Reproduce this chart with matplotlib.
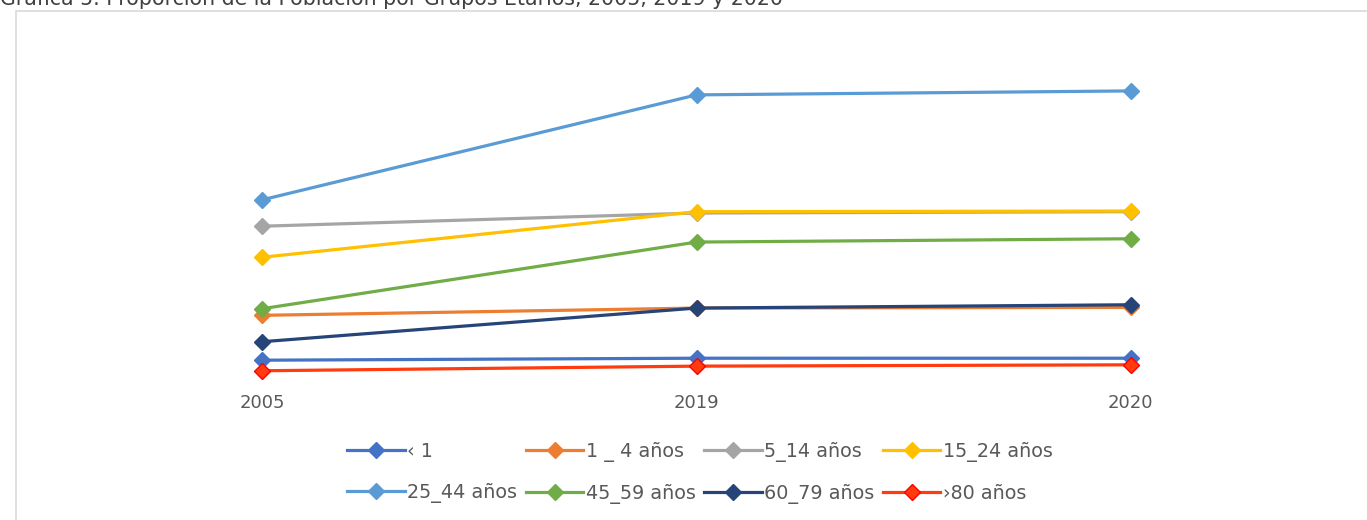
import matplotlib
matplotlib.use("Agg")
import matplotlib.pyplot as plt
from matplotlib.patches import Rectangle

# datos (escala aproximada, sin eje visible)
years = ["2005", "2019", "2020"]
labels = ["\u2039 1", "1 _ 4 años", "5_14 años", "15_24 años",
          "25_44 años", "45_59 años", "60_79 años", "\u203a80 años"]
menor_1 = [3.0, 3.3, 3.3]
de_1_4 = [9.8, 10.9, 11.0]
de_5_14 = [23.3, 25.3, 25.5]
de_15_24 = [18.6, 25.5, 25.6]
de_25_44 = [27.3, 43.2, 43.8]
de_45_59 = [10.8, 20.9, 21.4]
de_60_79 = [5.8, 10.9, 11.4]
mayor_80 = [1.4, 2.1, 2.3]

series = [menor_1, de_1_4, de_5_14, de_15_24, de_25_44, de_45_59, de_60_79, mayor_80]
colors = ["#4472C4", "#ED7D31", "#A5A5A5", "#FFC000",
          "#5B9BD5", "#70AD47", "#264478", "#FF3B0F"]

W, H = 1367, 520
fig = plt.figure(figsize=(W / 100, H / 100), dpi=100)

# marco del gráfico (solo se ven los bordes superior e izquierdo)
fig.patches.append(Rectangle((16 / W, -0.1), 1.2, 1 - 10.5 / H + 0.1,
                             transform=fig.transFigure, fill=False,
                             edgecolor="#D9D9D9", linewidth=1.2))

# el título queda cortado por arriba, igual que en el original
fig.text(0.0, 1 - 5 / H, "Gráfica 5. Proporción de la Población por Grupos Etarios, 2005, 2019 y 2020",
         fontsize=14.8, color="#404040", va="baseline", ha="left")

ax = fig.add_axes([45 / W, (H - 380) / H, 1303 / W, 330 / H])
x = list(range(len(years)))
handles = []
for vals, lab, c in zip(series, labels, colors):
    edge = "#FF0000" if c == "#FF3B0F" else c
    h, = ax.plot(x, vals, color=c, lw=2.3, marker="D", ms=8,
                 markerfacecolor=c, markeredgecolor=edge, markeredgewidth=1, label=lab)
    handles.append(h)

ax.set_xlim(-0.5, 2.5)
ax.set_ylim(0, 50)
ax.set_xticks(x)
ax.set_xticklabels(years, fontsize=13, color="#595959")
ax.tick_params(axis="x", length=0, pad=10)
ax.set_yticks([])
for s in ax.spines.values():
    s.set_visible(False)
ax.patch.set_visible(False)

# orden por filas como en la leyenda original
order = [0, 4, 1, 5, 2, 6, 3, 7]
leg = fig.legend([handles[i] for i in order], [labels[i] for i in order],
                 ncol=4, loc="center", bbox_to_anchor=(700 / W, 1 - 473 / H),
                 frameon=False, fontsize=13.8, handlelength=3.0, handletextpad=0.12,
                 columnspacing=0.45, labelspacing=1.15)
for t in leg.get_texts():
    t.set_color("#595959")

fig.savefig("out.png", dpi=100)
